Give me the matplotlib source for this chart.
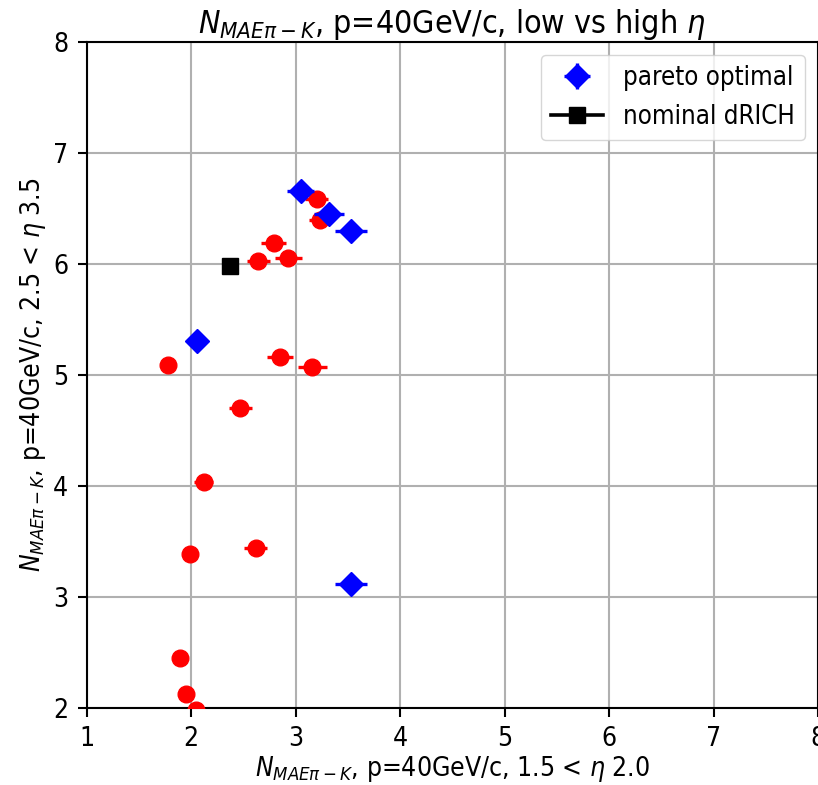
import matplotlib
matplotlib.use("Agg")
import numpy as np
import matplotlib.pyplot as plt

plt.rcParams["font.family"] = "DejaVu Sans"
plt.rcParams["font.stretch"] = "condensed"
plt.rcParams["mathtext.fontset"] = "custom"
plt.rcParams["mathtext.rm"] = "DejaVu Sans:stretch=condensed"
plt.rcParams["mathtext.it"] = "DejaVu Sans:italic:stretch=condensed"
plt.rcParams["font.size"] = 19

# -------- data
# all designs (red)
all_x = [3.20, 3.23, 2.79, 2.64, 2.93, 1.78, 2.85, 3.16, 2.47, 2.12, 1.99, 2.62, 1.89, 1.95, 2.05]
all_y = [6.59, 6.40, 6.19, 6.03, 6.05, 5.09, 5.16, 5.07, 4.70, 4.04, 3.39, 3.44, 2.45, 2.13, 1.98]
all_xerr = [0.11, 0.10, 0.12, 0.11, 0.13, 0.03, 0.12, 0.14, 0.11, 0.09, 0.07, 0.11, 0.03, 0.05, 0.05]
all_yerr = [0.02] * len(all_x)

# pareto optimal (blue)
par_x = [3.05, 3.32, 3.53, 2.06, 3.53]
par_y = [6.66, 6.45, 6.30, 5.31, 3.12]
par_xerr = [0.13, 0.14, 0.15, 0.03, 0.15]
par_yerr = [0.02] * len(par_x)

# nominal dRICH (black)
nom_x = [2.37]
nom_y = [5.98]

fig = plt.figure(figsize=(8.18, 7.85), dpi=100)
ax = fig.add_axes([0.106, 0.098, 0.894, 0.8485])

ax.errorbar(all_x, all_y, xerr=all_xerr, yerr=all_yerr, fmt="o", color="red",
            ms=12, elinewidth=2.4, zorder=3)
h_par = ax.errorbar(par_x, par_y, xerr=par_xerr, yerr=par_yerr, fmt="D", color="blue",
                    ms=12, elinewidth=2.4, label="pareto optimal", zorder=4)
h_nom, = ax.plot(nom_x, nom_y, "ks-", ms=12, lw=2.6, label="nominal dRICH", zorder=5)

ax.set_xlim(1, 8)
ax.set_ylim(2, 8)
ax.grid(True, color="#b0b0b0", lw=1.5)
ax.set_axisbelow(True)
for s in ax.spines.values():
    s.set_linewidth(1.5)
ax.tick_params(width=1.5, length=6.6, pad=6.6, labelsize=19)

ax.set_title(r"$N_{MAE\pi-K}$, p=40GeV/c, low vs high $\eta$", fontsize=23)
ax.set_xlabel(r"$N_{MAE\pi-K}$, p=40GeV/c, 1.5 < $\eta$ 2.0", fontsize=19, labelpad=1.5)
ax.set_ylabel(r"$N_{MAE\pi-K}$, p=40GeV/c, 2.5 < $\eta$ 3.5", fontsize=19)
ax.legend([h_par, h_nom], ["pareto optimal", "nominal dRICH"],
          loc="upper right", fontsize=18.5)

fig.savefig("out.png", dpi=100)
